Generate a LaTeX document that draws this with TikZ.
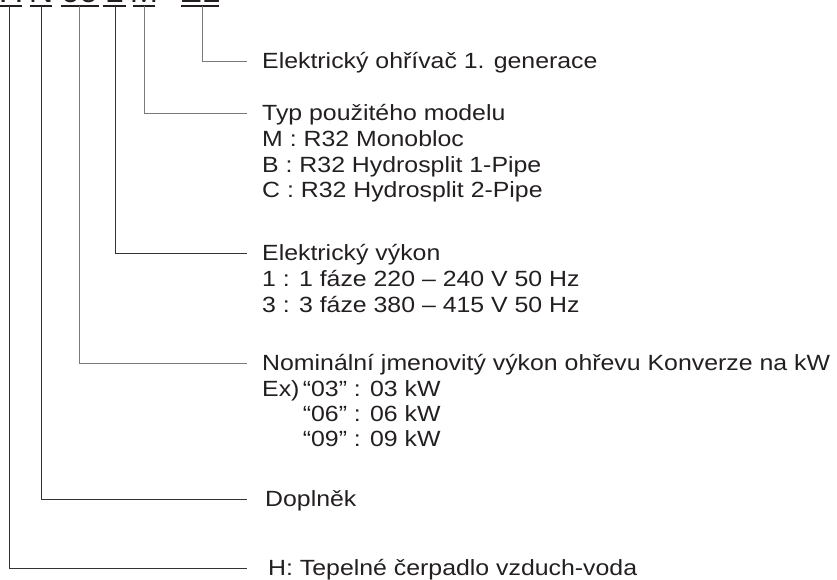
\documentclass[tikz,border=0pt]{standalone}
\usepackage{fontspec}
\setmainfont[FakeStretch=1.13]{Liberation Sans}
\definecolor{ink}{HTML}{231F20}
\definecolor{dk}{HTML}{333333}
\definecolor{gr}{HTML}{7A7A7A}
\begin{document}
\begin{tikzpicture}[x=1pt,y=-1pt,
  lbl/.style={anchor=base west,inner sep=0pt,text=ink,font=\fontsize{22}{22}\selectfont},
  code/.style={anchor=base,inner sep=0pt,text=ink,font=\fontsize{30}{30}\selectfont},
  bar/.style={ink,line width=1.8pt},
  darkconn/.style={dk,line width=1pt},
  grayconn/.style={gr,line width=1pt}]
\useasboundingbox (0,0) rectangle (837,579);
% top code (cut off at the top edge, as in the reference)
\begin{scope}
\clip (0,0) rectangle (837,579);
\node[code] (c1) at (11,2.6) {H};
\node[code] (c2) at (41,2.6) {N};
\node[code] (c3) at (80,2.6) {09};
\node[code] (c4) at (114.5,2.6) {1};
\node[code] (c5) at (144,2.6) {M};
\node[code] (c6) at (200,2.6) {E1};
\end{scope}
\draw[bar] (0,6) -- (22,6);
\draw[bar] (30,6) -- (52,6);
\draw[bar] (61,6) -- (99,6);
\draw[bar] (103,6) -- (126,6);
\draw[bar] (133,6) -- (155,6);
\draw[bar] (181,6) -- (219,6);
\coordinate (b1) at (9,6);
\coordinate (b2) at (41,6);
\coordinate (b3) at (79,6);
\coordinate (b4) at (115,6);
\coordinate (b5) at (144,6);
\coordinate (b6) at (202,6);
\coordinate (e1) at (247,568);
\coordinate (e2) at (247,499);
\coordinate (e3) at (247,363);
\coordinate (e4) at (247,253);
\coordinate (e5) at (247,113);
\coordinate (e6) at (247,61);
\draw[darkconn] (b1) |- (e1);
\draw[darkconn] (b2) |- (e2);
\draw[grayconn] (b3) |- (e3);
\draw[darkconn] (b4) |- (e4);
\draw[grayconn] (b5) |- (e5);
\draw[grayconn] (b6) |- (e6);
% labels
\node[lbl] (t6) at (262,68.8) {Elektrický ohřívač 1. generace};
\node[lbl] (t5) at (262,120.8) {Typ použitého modelu};
\node[lbl] (t5a) at (262,146.4) {M : R32 Monobloc};
\node[lbl] (t5b) at (262,172) {B : R32 Hydrosplit 1-Pipe};
\node[lbl] (t5c) at (262,197.6) {C : R32 Hydrosplit 2-Pipe};
\node[lbl] (t4) at (262,260.8) {Elektrický výkon};
\node[lbl] (t4a) at (262,286.8) {1 : 1 fáze 220 – 240 V 50 Hz};
\node[lbl] (t4b) at (262,312.8) {3 : 3 fáze 380 – 415 V 50 Hz};
\node[lbl] (t3) at (262,370.8) {Nominální jmenovitý výkon ohřevu Konverze na kW};
\node[lbl] (t3x) at (262,396.1) {Ex)};
\node[lbl] (t3a) at ([xshift=3pt]t3x.base east) {“03” : 03 kW};
\node[lbl] (t3b) at ([yshift=-25.3pt]t3a.base west) {“06” : 06 kW};
\node[lbl] (t3c) at ([yshift=-25.3pt]t3b.base west) {“09” : 09 kW};
\node[lbl] (t2) at (265,506.8) {Doplněk};
\node[lbl] (t1) at (268,575.8) {H: Tepelné čerpadlo vzduch-voda};
\end{tikzpicture}
\end{document}
